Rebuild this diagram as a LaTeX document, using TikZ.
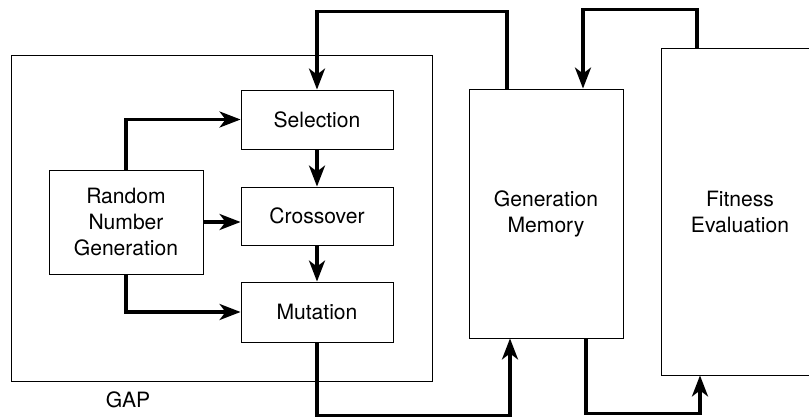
\documentclass[tikz,border=0pt]{standalone}
\usepackage{fontspec}
\setmainfont{TeX Gyre Heros}
\usetikzlibrary{arrows.meta}

\begin{document}
\begin{tikzpicture}[
  blk/.style={draw, line width=0.5pt, align=center, font=\fontsize{12}{14.8}\selectfont},
  link/.style={line width=1.9pt, -{Stealth[length=0.42cm, width=0.32cm, inset=0.12cm]}}
]
\useasboundingbox (0,0) rectangle (16.18,8.34);

\node (Gap) at (4.43,3.98) [blk, minimum width=8.42cm, minimum height=6.52cm] {};
\node (GapL) at (2.56,0.34) [font=\fontsize{12}{14.8}\selectfont] {GAP};

\node (Sel) at (6.34,5.95) [blk, minimum width=3.04cm, minimum height=1.18cm] {Selection};
\node (Cro) at (6.34,4.02) [blk, minimum width=3.04cm, minimum height=1.16cm] {Crossover};
\node (Mut) at (6.34,2.10) [blk, minimum width=3.04cm, minimum height=1.2cm] {Mutation};
\node (Rng) at (2.52,3.90) [blk, minimum width=3.08cm, minimum height=2.08cm] {Random\\Number\\Generation};
\node (Mem) at (10.92,4.07) [blk, minimum width=3.08cm, minimum height=4.98cm] {Generation\\Memory};
\node (Fit) at (14.80,4.11) [blk, minimum width=3.16cm, minimum height=6.54cm] {Fitness\\Evaluation};

\draw [link] (Rng.north) |- (Sel.west);
\draw [link] (Rng.east) -- (Rng.east -| Cro.west);
\draw [link] (Rng.south) |- (Mut.west);
\draw [link] (Sel) -- (Cro);
\draw [link] (Cro) -- (Mut);

\draw [link] ([xshift=-0.78cm]Mem.north) -- ++(0,1.54) -| (Sel.north);
\draw [link] ([xshift=-0.86cm]Fit.north) -- ++(0,0.76) -| ([xshift=0.74cm]Mem.north);
\draw [link] (Mut.south) -- ++(0,-1.46) -| ([xshift=-0.72cm]Mem.south);
\draw [link] ([xshift=0.8cm]Mem.south) -- ++(0,-1.5) -| ([xshift=-0.8cm]Fit.south);
\end{tikzpicture}
\end{document}
